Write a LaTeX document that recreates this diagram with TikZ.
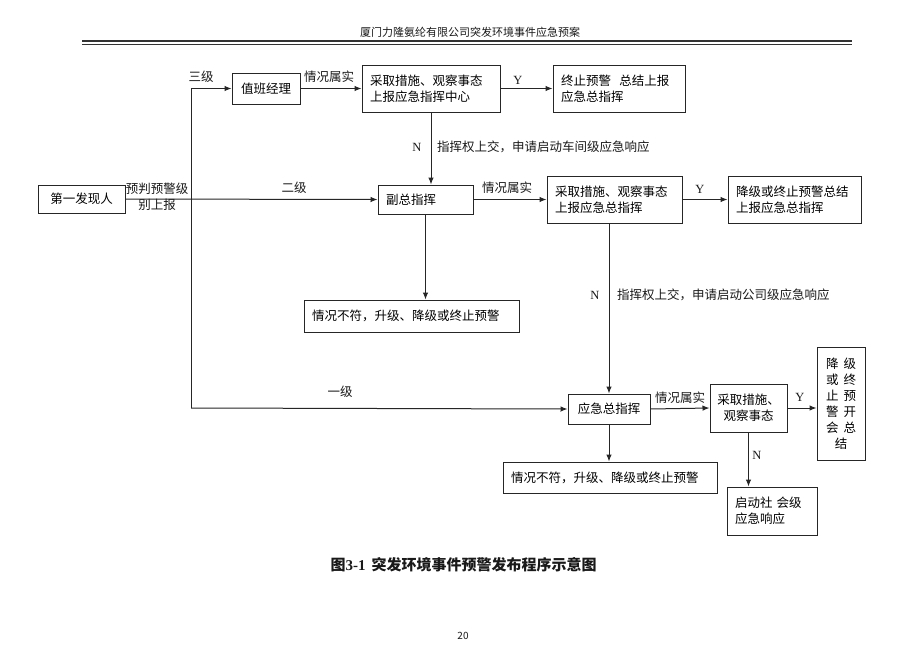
\documentclass[tikz,border=0pt]{standalone}
\usepackage{fontspec}
\setmainfont{Liberation Serif}
\newfontfamily\cjk{Noto Sans CJK SC}
\usetikzlibrary{arrows.meta}

\tikzset{
	box/.style={draw=black!85, line width=1pt, inner xsep=8pt, inner ysep=3pt, align=left, font=\cjk\fontsize{12.5}{16}\selectfont},
	lbl/.style={inner sep=1pt, text=black!90, font=\cjk\fontsize{12.5}{16}\selectfont},
	yn/.style={inner sep=1pt, text=black!90, font=\fontsize{12.5}{14}\selectfont},
	wire/.style={draw=black!85, line width=1pt},
	arr/.style={wire, -{Latex[length=7pt,width=5.5pt]}},
}

\begin{document}
\begin{tikzpicture}[x=1pt,y=-1pt]
			%%%%% START %%%%%
			\fill[white] (0,0) rectangle (900,651);
			\useasboundingbox (0,0) rectangle (900,651);
			
			\node[lbl, font=\cjk\fontsize{11}{13}\selectfont] (head) at (470,32) {厦门力隆氨纶有限公司突发环境事件应急预案};
			\draw[black!80, line width=2pt] (82,41) -- (852,41);
			\draw[black!80, line width=1pt] (82,44.5) -- (852,44.5);
			
			\node[box, align=center, inner xsep=3pt, minimum width=87, minimum height=28] (finder) at (81.5,199) {第一发现人};
			\node[lbl, align=center] (judge) at (157,197) {预判预警级\\别上报};
			
			\coordinate (top) at (191,88.5);
			\coordinate (bot) at (191,408);
			
			\node[box, align=center, inner xsep=3pt, minimum width=68, minimum height=31] (duty) at (266,88.5) {值班经理};
			\node[box, text width=122, minimum height=47] (center1) at (431,88.5) {采取措施、观察事态\\上报应急指挥中心};
			\node[box, text width=116, minimum height=47] (stop1) at (619,88.5) {终止预警\ \ 总结上报\\应急总指挥};
			
			\node[box, text width=79, minimum height=29] (vice) at (425.5,199.5) {副总指挥};
			\node[box, text width=119, minimum height=47] (center2) at (614.5,199.5) {采取措施、观察事态\\上报应急总指挥};
			\node[box, text width=117, minimum height=47] (stop2) at (794.5,199.5) {降级或终止预警总结\\上报应急总指挥};
			
			\node[box, text width=199, minimum height=32] (mismatch1) at (411.5,316) {情况不符，升级、降级或终止预警};
			
			\node[box, align=center, inner xsep=3pt, minimum width=82, minimum height=30] (chief) at (609,409) {应急总指挥};
			\node[box, align=center, inner xsep=3pt, minimum width=77, minimum height=48] (act3) at (748.5,408) {采取措施、\\观察事态};
			\node[box, align=center, inner xsep=3pt, minimum width=48, minimum height=113] (meet) at (841,403.5) {降\hspace{5pt}级\\或\hspace{5pt}终\\止\hspace{5pt}预\\警\hspace{5pt}开\\会\hspace{5pt}总\\结};
			\node[box, text width=198, minimum height=31] (mismatch2) at (610,477.5) {情况不符，升级、降级或终止预警};
			\node[box, text width=74, minimum height=48] (social) at (772,511) {启动社\ 会级\\应急响应};
			
			% level lines
			\draw[wire] (top) -- (bot);
			\draw[arr] (top) -- (duty.west);
			\draw[arr] (finder.east) -- (vice.west);
			\draw[arr] (bot) -- (chief.west);
			\node[lbl] (lv3) at (201,77) {三级};
			\node[lbl] (lv2) at (294,188) {二级};
			\node[lbl] (lv1) at (340,392) {一级};
			
			% third level
			\draw[arr] (duty.east) -- (center1.west);
			\node[lbl] (ok1) at (329,77) {情况属实};
			\draw[arr] (center1.east) -- (stop1.west);
			\node[yn] (y1) at (518,80) {Y};
			\draw[arr] (center1.south) -- (center1.south |- vice.north);
			\node[yn] (n1) at (417,147) {N};
			\node[lbl, anchor=west] (up1) at (436,147) {指挥权上交，申请启动车间级应急响应};
			
			% second level
			\draw[arr] (vice.east) -- (center2.west);
			\node[lbl] (ok2) at (507,188) {情况属实};
			\draw[arr] (center2.east) -- (stop2.west);
			\node[yn] (y2) at (700,189) {Y};
			\draw[arr] (vice.south) -- (vice.south |- mismatch1.north);
			\draw[arr] (chief.north |- center2.south) -- (chief.north);
			\node[yn] (n2) at (595,295) {N};
			\node[lbl, anchor=west] (up2) at (616,295) {指挥权上交，申请启动公司级应急响应};
			
			% first level
			\draw[arr] (chief.east) -- (act3.west);
			\node[lbl] (ok3) at (680,398) {情况属实};
			\draw[arr] (act3.east) -- (act3.east -| meet.west);
			\node[yn] (y3) at (800,397) {Y};
			\draw[arr] (chief.south) -- (chief.south |- mismatch2.north);
			\draw[arr] (act3.south) -- (act3.south |- social.north);
			\node[yn] (n3) at (757,455) {N};
			
			\node[lbl, font=\cjk\bfseries\fontsize{15}{17}\selectfont] (caption) at (463.5,565) {图{\rmfamily\bfseries 3-1}\hspace{6pt}突发环境事件预警发布程序示意图};
			\node[lbl, font=\cjk\fontsize{10}{12}\selectfont] (page) at (463,636) {20};
			%%%%% END %%%%%
\end{tikzpicture}
\end{document}
